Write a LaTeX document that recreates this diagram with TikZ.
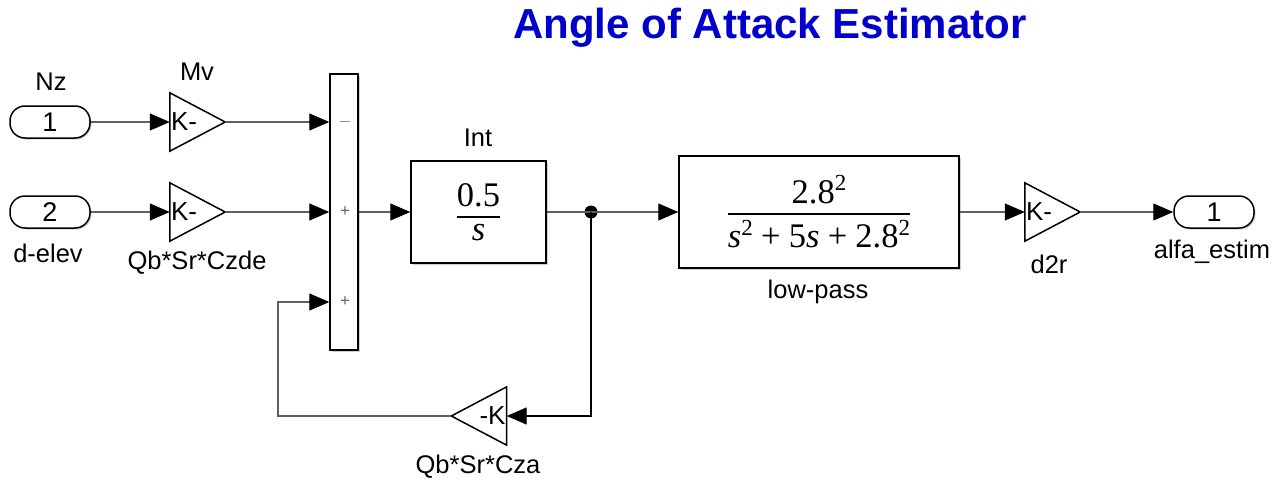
\documentclass[tikz,border=0pt]{standalone}
\usepackage{amsmath}
\usepackage{fontspec}
\setmainfont{Liberation Sans}
\newfontfamily\tms{Liberation Serif}
\usetikzlibrary{arrows.meta,shadows}
\definecolor{titleblue}{RGB}{0,0,205}
\definecolor{wirecol}{RGB}{95,95,95}
\newcommand\supt{\raisebox{0.36em}{\fontsize{23}{24}\selectfont 2}}
\newcommand\pl{\hspace{0.24em}+\hspace{0.24em}}
\begin{document}
\begin{tikzpicture}[x=1pt,y=-1pt,
  lbl/.style={font=\fontsize{25.5}{30}\selectfont, inner sep=0pt},
  kl/.style={font=\fontsize{26}{30}\selectfont, inner sep=0pt},
  sgn/.style={font=\fontsize{17}{20}\selectfont, text=black!60, inner sep=0pt},
  blk/.style={draw=black, line width=1.5pt, fill=white,
    drop shadow={shadow xshift=1.5pt, shadow yshift=-1.5pt, fill=black!30, opacity=0.6}},
  port/.style={blk, rounded corners=15pt, minimum width=80pt, minimum height=32pt,
    font=\fontsize{27}{30}\selectfont},
  gainbox/.style={minimum width=55pt, minimum height=58pt, inner sep=0pt},
  tri/.style={draw=black, line width=1.5pt, fill=white, line join=miter},
  wire/.style={draw=wirecol, line width=1.2pt},
  arr/.style={wire, -{Triangle[length=20pt,width=17pt,color=black]}},
  mathbox/.style={blk, font=\fontsize{34.5}{40}\selectfont}]
\useasboundingbox (0,0) rectangle (1281,479);

% title
\node[font=\fontsize{42}{48}\selectfont\bfseries, text=titleblue, inner sep=0pt] (title) at (770,28) {Angle of Attack Estimator};

% ports
\node[port] (in1) at (50,122) {1};
\node[port] (in2) at (50,212) {2};
\node[port] (out) at (1214,212) {1};
\node[lbl] (lnz) at (51,82) {Nz};
\node[lbl] (lde) at (48,253) {d-elev};
\node[lbl] (lal) at (1212,252) {alfa\_estim};

% gains
\node[gainbox] (mv) at (197.5,122) {};
\draw[tri] (mv.north west) -- (mv.east) -- (mv.south west) -- cycle;
\node[kl, anchor=west] (mvk) at ([xshift=1pt]mv.west) {K-};
\node[lbl] (lmv) at (197,72) {Mv};

\node[gainbox] (cz) at (197.5,212) {};
\draw[tri] (cz.north west) -- (cz.east) -- (cz.south west) -- cycle;
\node[kl, anchor=west] (czk) at ([xshift=1pt]cz.west) {K-};
\node[lbl] (lcz) at (197,263) {Qb*Sr*Czde};

\node[gainbox] (d2r) at (1052.5,212) {};
\draw[tri] (d2r.north west) -- (d2r.east) -- (d2r.south west) -- cycle;
\node[kl, anchor=west] (d2rk) at ([xshift=1pt]d2r.west) {K-};
\node[lbl] (ld2r) at (1049,264) {d2r};

\node[gainbox] (fb) at (479,416) {};
\draw[tri] (fb.north east) -- (fb.west) -- (fb.south east) -- cycle;
\node[kl, anchor=east] (fbk) at ([xshift=-1pt]fb.east) {-K};
\node[lbl] (lfb) at (478,467) {Qb*Sr*Cza};

% sum
\node[blk, minimum width=28pt, minimum height=276pt, inner sep=0pt] (sum) at (344,212) {};
\node[sgn] (s1) at (345,122) {$-$};
\node[sgn] (s2) at (345,212) {+};
\node[sgn] (s3) at (345,302) {+};

% integrator
\node[mathbox, minimum width=135pt, minimum height=102pt] (int) at (478.5,212)
  {$\genfrac{}{}{1.8pt}{0}{\hbox{\tms 0.5}}{\hbox{\tms\itshape s}}$};
\node[lbl] (lint) at (478,138) {Int};

% low-pass
\node[mathbox, minimum width=280pt, minimum height=112pt] (lp) at (819,212)
  {$\genfrac{}{}{1.8pt}{0}{\hbox{\tms 2.8\supt}}{\hbox{\tms{\itshape s}\supt\pl 5{\itshape s}\pl 2.8\supt}}$};
\node[lbl] (llp) at (818,292) {low-pass};

% branch point
\node[circle, fill=black, minimum size=13pt, inner sep=0pt] (dot) at (591,212) {};
\coordinate (c1) at (278,416);
\coordinate (c2) at (278,302);

% connectors
\draw[arr] (in1.east) -- (mv.west);
\draw[arr] (in2.east) -- (cz.west);
\draw[arr] (mv.east) -- (mv.east -| sum.west);
\draw[arr] (cz.east) -- (cz.east -| sum.west);
\draw[arr] (sum.east) -- (int.west);
\draw[wire] (int.east) -- (dot.center);
\draw[arr] (dot.center) -- (lp.west);
\draw[arr] (lp.east) -- (d2r.west);
\draw[arr] (d2r.east) -- (out.west);
\draw[arr, draw=black] (dot.center) |- (fb.east);
\draw[arr] (fb.west) -- (c1) -- (c2) -- (c2 -| sum.west);
\end{tikzpicture}
\end{document}
